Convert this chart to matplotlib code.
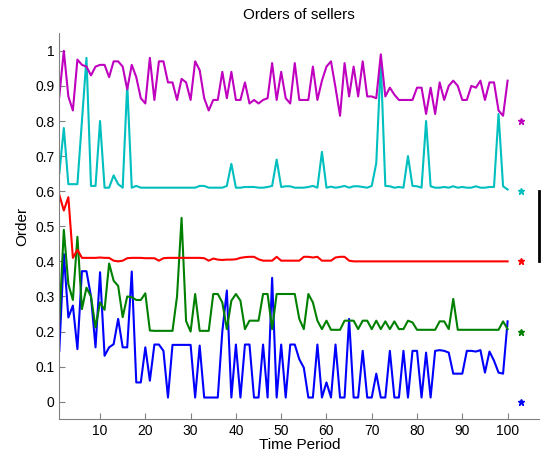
import numpy as np
import matplotlib
matplotlib.use('Agg')
import matplotlib.pyplot as plt

plt.rcParams['font.family'] = ['Liberation Sans', 'DejaVu Sans']

# time periods 1..100
t = np.arange(1, 101)

magenta = [0.87, 1.00, 0.87, 0.83, 0.975, 0.96, 0.955, 0.93, 0.955, 0.96,
           0.96, 0.925, 0.97, 0.97, 0.955, 0.89, 0.96, 0.925, 0.865, 0.85,
           0.98, 0.86, 0.97, 0.97, 0.91, 0.91, 0.86, 0.92, 0.91, 0.86,
           0.97, 0.945, 0.865, 0.83, 0.86, 0.86, 0.94, 0.865, 0.94, 0.86,
           0.86, 0.91, 0.85, 0.86, 0.85, 0.86, 0.865, 0.965, 0.86, 0.94,
           0.865, 0.85, 0.965, 0.86, 0.86, 0.86, 0.955, 0.86, 0.915, 0.955,
           0.97, 0.895, 0.815, 0.965, 0.87, 0.955, 0.87, 0.97, 0.87, 0.87,
           0.865, 0.99, 0.87, 0.895, 0.875, 0.86, 0.86, 0.86, 0.86, 0.895,
           0.895, 0.82, 0.895, 0.82, 0.91, 0.86, 0.90, 0.915, 0.90, 0.86,
           0.86, 0.90, 0.895, 0.915, 0.86, 0.91, 0.91, 0.83, 0.815, 0.915]

cyan = [0.65, 0.78, 0.62, 0.62, 0.62, 0.80, 0.98, 0.615, 0.615, 0.80,
        0.61, 0.61, 0.645, 0.62, 0.61, 0.905, 0.61, 0.615, 0.61, 0.61,
        0.61, 0.61, 0.61, 0.61, 0.61, 0.61, 0.61, 0.61, 0.61, 0.61,
        0.61, 0.615, 0.615, 0.61, 0.61, 0.61, 0.61, 0.615, 0.678, 0.61,
        0.61, 0.612, 0.612, 0.612, 0.61, 0.61, 0.612, 0.615, 0.69, 0.612,
        0.614, 0.614, 0.61, 0.61, 0.61, 0.612, 0.615, 0.61, 0.712, 0.61,
        0.613, 0.61, 0.612, 0.615, 0.61, 0.614, 0.614, 0.612, 0.61, 0.615,
        0.68, 0.97, 0.615, 0.614, 0.61, 0.612, 0.61, 0.70, 0.615, 0.614,
        0.61, 0.80, 0.614, 0.61, 0.61, 0.612, 0.61, 0.614, 0.61, 0.612,
        0.61, 0.61, 0.614, 0.61, 0.61, 0.612, 0.612, 0.82, 0.614, 0.605]

red = [0.59, 0.545, 0.583, 0.41, 0.433, 0.41, 0.41, 0.41, 0.41, 0.411,
       0.41, 0.41, 0.402, 0.40, 0.402, 0.409, 0.41, 0.41, 0.41, 0.409,
       0.409, 0.409, 0.402, 0.409, 0.41, 0.41, 0.41, 0.41, 0.41, 0.41,
       0.41, 0.41, 0.409, 0.402, 0.408, 0.405, 0.404, 0.405, 0.405, 0.406,
       0.41, 0.412, 0.413, 0.413, 0.406, 0.402, 0.402, 0.402, 0.413, 0.402,
       0.402, 0.402, 0.402, 0.402, 0.413, 0.413, 0.411, 0.413, 0.402, 0.402,
       0.402, 0.411, 0.413, 0.413, 0.402, 0.40, 0.40, 0.40, 0.40, 0.40,
       0.40, 0.40, 0.40, 0.40, 0.40, 0.40, 0.40, 0.40, 0.40, 0.40,
       0.40, 0.40, 0.40, 0.40, 0.40, 0.40, 0.40, 0.40, 0.40, 0.40,
       0.40, 0.40, 0.40, 0.40, 0.40, 0.40, 0.40, 0.40, 0.40, 0.40]

green = [0.23, 0.49, 0.335, 0.29, 0.47, 0.264, 0.325, 0.30, 0.212, 0.283,
         0.262, 0.394, 0.345, 0.33, 0.241, 0.30, 0.298, 0.29, 0.29, 0.309,
         0.203, 0.202, 0.202, 0.202, 0.202, 0.202, 0.30, 0.524, 0.23, 0.20,
         0.307, 0.202, 0.202, 0.202, 0.307, 0.307, 0.283, 0.207, 0.288, 0.307,
         0.288, 0.207, 0.231, 0.231, 0.231, 0.307, 0.307, 0.207, 0.307, 0.307,
         0.307, 0.307, 0.307, 0.236, 0.207, 0.307, 0.283, 0.231, 0.207, 0.231,
         0.205, 0.205, 0.205, 0.231, 0.231, 0.231, 0.207, 0.231, 0.231, 0.207,
         0.231, 0.207, 0.229, 0.207, 0.229, 0.207, 0.207, 0.231, 0.226, 0.205,
         0.205, 0.205, 0.205, 0.205, 0.229, 0.229, 0.207, 0.293, 0.205, 0.205,
         0.205, 0.205, 0.205, 0.205, 0.205, 0.205, 0.205, 0.205, 0.229, 0.207]

blue = [0.145, 0.421, 0.24, 0.274, 0.15, 0.372, 0.372, 0.30, 0.155, 0.369,
        0.131, 0.155, 0.164, 0.236, 0.155, 0.155, 0.371, 0.055, 0.055, 0.155,
        0.06, 0.163, 0.163, 0.145, 0.012, 0.162, 0.162, 0.162, 0.162, 0.162,
        0.012, 0.16, 0.012, 0.012, 0.012, 0.012, 0.20, 0.317, 0.012, 0.163,
        0.012, 0.163, 0.163, 0.012, 0.012, 0.163, 0.012, 0.353, 0.012, 0.163,
        0.012, 0.163, 0.163, 0.121, 0.097, 0.012, 0.012, 0.163, 0.012, 0.055,
        0.012, 0.163, 0.012, 0.012, 0.236, 0.012, 0.012, 0.145, 0.012, 0.012,
        0.08, 0.012, 0.012, 0.145, 0.012, 0.012, 0.145, 0.012, 0.145, 0.145,
        0.012, 0.14, 0.012, 0.145, 0.147, 0.145, 0.14, 0.08, 0.08, 0.08,
        0.145, 0.145, 0.143, 0.147, 0.083, 0.143, 0.117, 0.083, 0.08, 0.229]

# reference stars at the right side
star_x = 103
star_y = [0.0, 0.2, 0.4, 0.6, 0.8]
colors = ['#0000ff', '#008000', '#ff0000', '#00bfbf', '#bf00bf']
series = [blue, green, red, cyan, magenta]

fig = plt.figure(figsize=(5.42, 4.61), dpi=100)
ax = fig.add_axes([0.1094, 0.0905, 0.8856, 0.8373])

for s, c in zip(series, colors):
    ax.plot(t, s, color=c, lw=1.5)
for y, c in zip(star_y, colors):
    ax.plot(star_x, y, marker='*', color=c, ms=5, ls='none')

# scale bar
ax.plot([107, 107], [0.4, 0.6], color='black', lw=2, clip_on=False)

ax.set_xlim(1, 107)
ax.set_ylim(-0.05, 1.05)
ax.set_xticks(np.arange(10, 101, 10))
ax.set_yticks(np.arange(0, 1.01, 0.1))
ax.set_yticklabels(['0', '0.1', '0.2', '0.3', '0.4', '0.5', '0.6', '0.7', '0.8', '0.9', '1'])
ax.spines['top'].set_visible(False)
ax.spines['right'].set_visible(False)
for sp in ['left', 'bottom']:
    ax.spines[sp].set_color('#808080')
ax.tick_params(direction='in', length=4, color='#808080', labelsize=10)

ax.set_title('Orders of sellers', fontsize=11, pad=10)
ax.set_xlabel('Time Period', fontsize=11, labelpad=0)
ax.set_ylabel('Order', fontsize=11)

fig.savefig('out.png', dpi=100)
